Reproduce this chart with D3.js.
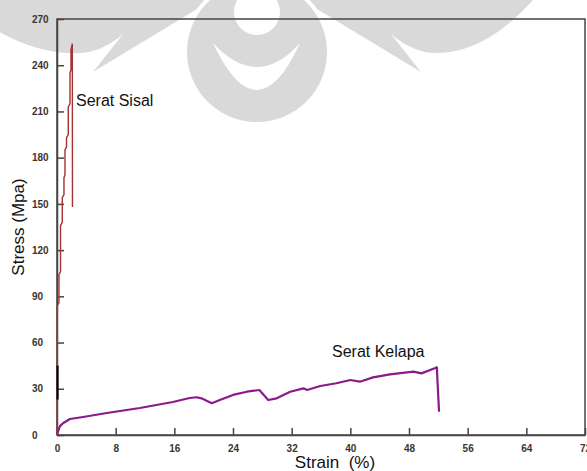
<!DOCTYPE html>
<html>
<head>
  <meta charset="utf-8">
  <title>Stress strain</title>
  <script src="https://cdn.jsdelivr.net/npm/d3@7/dist/d3.min.js"></script>
  <style>
    body { margin: 0; background: #fff; }
    svg { display: block; font-family: "Liberation Sans", Arial, sans-serif; }
    .tick text { font-size: 10px; font-weight: bold; fill: #3a3530; }
    .tick line, .domain { stroke: #444; stroke-width: 1.5; }
    .lbl { font-size: 16px; fill: #111; }
    .title { font-size: 17px; fill: #111; white-space: pre; }
  </style>
</head>
<body>
  <svg id="chart" width="587" height="471"></svg>
  <script>
    // Serat Sisal (red)
    var sisalStrain = [0, 0.04, 0.04, 0.27, 0.27, 0.48, 0.48, 0.72, 0.72, 0.95, 0.95, 1.09, 1.09, 1.30, 1.30, 1.54, 1.54, 1.77, 1.77, 1.91, 1.91, 2.09, 2.11];
    var sisalStress = [0, 2, 84, 86, 104, 106, 136, 138, 154, 156, 167, 169, 185, 187, 193, 195, 213, 215, 235, 237, 250, 254, 148];

    // short black segment near the origin
    var blackStrain = [0.08, 0.08];
    var blackStress = [23, 45];

    // Serat Kelapa (purple)
    var kelapaStrain = [0, 0.2, 0.4, 0.86, 1.77, 3.55, 6.8, 11.3, 15.8, 18.1, 19.05, 19.7, 21.1, 22.2, 24.0, 25.9, 27.6, 28.8, 29.96, 31.8, 33.6, 34.1, 35.9, 38.1, 40.0, 41.3, 43.1, 45.4, 48.6, 49.7, 51.5, 51.8, 51.9, 52.1];
    var kelapaStress = [0, 3.2, 5.8, 7.8, 10.4, 11.7, 14.3, 17.5, 21.4, 24.0, 24.5, 23.8, 20.6, 22.7, 26.0, 28.1, 29.2, 22.7, 23.8, 28.1, 30.3, 29.2, 31.8, 33.6, 35.7, 34.6, 37.4, 39.4, 41.1, 40.0, 43.3, 43.9, 33.6, 15.1];

    var xTicks = [0, 8, 16, 24, 32, 40, 48, 56, 64, 72];
    var yTicks = [0, 30, 60, 90, 120, 150, 180, 210, 240, 270];

    var svg = d3.select('#chart');
    var mLeft = 57, mRight = 585, mTop = 19, mBottom = 435;

    var x = d3.scaleLinear().domain([0, 72]).range([mLeft, mRight]);
    var y = d3.scaleLinear().domain([0, 270]).range([mBottom, mTop]);

    // faint watermark logo behind the plot
    var wm = svg.append('g').attr('fill', '#d9d9d9');
    wm.append('path').attr('d', 'M-19,0 L151,0 Q120,50 81,53 Q30,55 -19,20 Z');
    wm.append('path').attr('d', 'M363,0 L533,0 Q484,55 433,53 Q394,50 363,0 Z');
    wm.append('path').attr('d', 'M93,72 L150,0 L212,0 Z');
    wm.append('path').attr('d', 'M421,72 L364,0 L302,0 Z');
    wm.append('circle').attr('cx', 257).attr('cy', 52).attr('r', 74).attr('fill', '#fff');
    wm.append('circle').attr('cx', 257).attr('cy', 52).attr('r', 70);
    wm.append('circle').attr('cx', 257).attr('cy', 12).attr('r', 23).attr('fill', '#fff');
    wm.append('path').attr('fill', '#fff')
      .attr('d', 'M213,43 Q257,137 300,43 Q257,91 213,43 Z');

    // axes with inward ticks
    var gx = svg.append('g')
      .attr('transform', 'translate(0,' + mBottom + ')')
      .call(d3.axisBottom(x).tickValues(xTicks).tickSize(-7).tickSizeOuter(0).tickPadding(10));

    var gy = svg.append('g')
      .attr('transform', 'translate(' + mLeft + ',0)')
      .call(d3.axisLeft(y).tickValues(yTicks).tickSize(-7).tickSizeOuter(0));
    gy.selectAll('.tick text').attr('text-anchor', 'start').attr('x', -25);
    gx.attr('font-size', null).attr('font-family', null);
    gy.attr('font-size', null).attr('font-family', null);

    // frame
    svg.append('rect')
      .attr('x', mLeft).attr('y', mTop)
      .attr('width', mRight - mLeft).attr('height', mBottom - mTop)
      .attr('fill', 'none').attr('stroke', '#444').attr('stroke-width', 1.5);

    var line = d3.line().x(d => x(d[0])).y(d => y(d[1]));

    svg.append('path')
      .datum(d3.zip(kelapaStrain, kelapaStress))
      .attr('fill', 'none').attr('stroke', '#8b1a8b').attr('stroke-width', 2.2)
      .attr('stroke-linejoin', 'round')
      .attr('d', line);

    svg.append('path')
      .datum(d3.zip(sisalStrain, sisalStress))
      .attr('fill', 'none').attr('stroke', '#a33232').attr('stroke-width', 1.4)
      .attr('d', line);

    svg.append('path')
      .datum(d3.zip(blackStrain, blackStress))
      .attr('fill', 'none').attr('stroke', '#000').attr('stroke-width', 2)
      .attr('d', line);

    // labels
    svg.append('text').attr('class', 'lbl').attr('x', 76).attr('y', 106).text('Serat Sisal');
    svg.append('text').attr('class', 'lbl').attr('x', 332).attr('y', 357).text('Serat Kelapa');

    svg.append('text').attr('class', 'title')
      .attr('text-anchor', 'middle')
      .attr('x', 335).attr('y', 468)
      .text('Strain  (%)');

    svg.append('text').attr('class', 'title')
      .attr('text-anchor', 'middle')
      .attr('transform', 'translate(24,227) rotate(-90)')
      .text('Stress (Mpa)');
  </script>
</body>
</html>
